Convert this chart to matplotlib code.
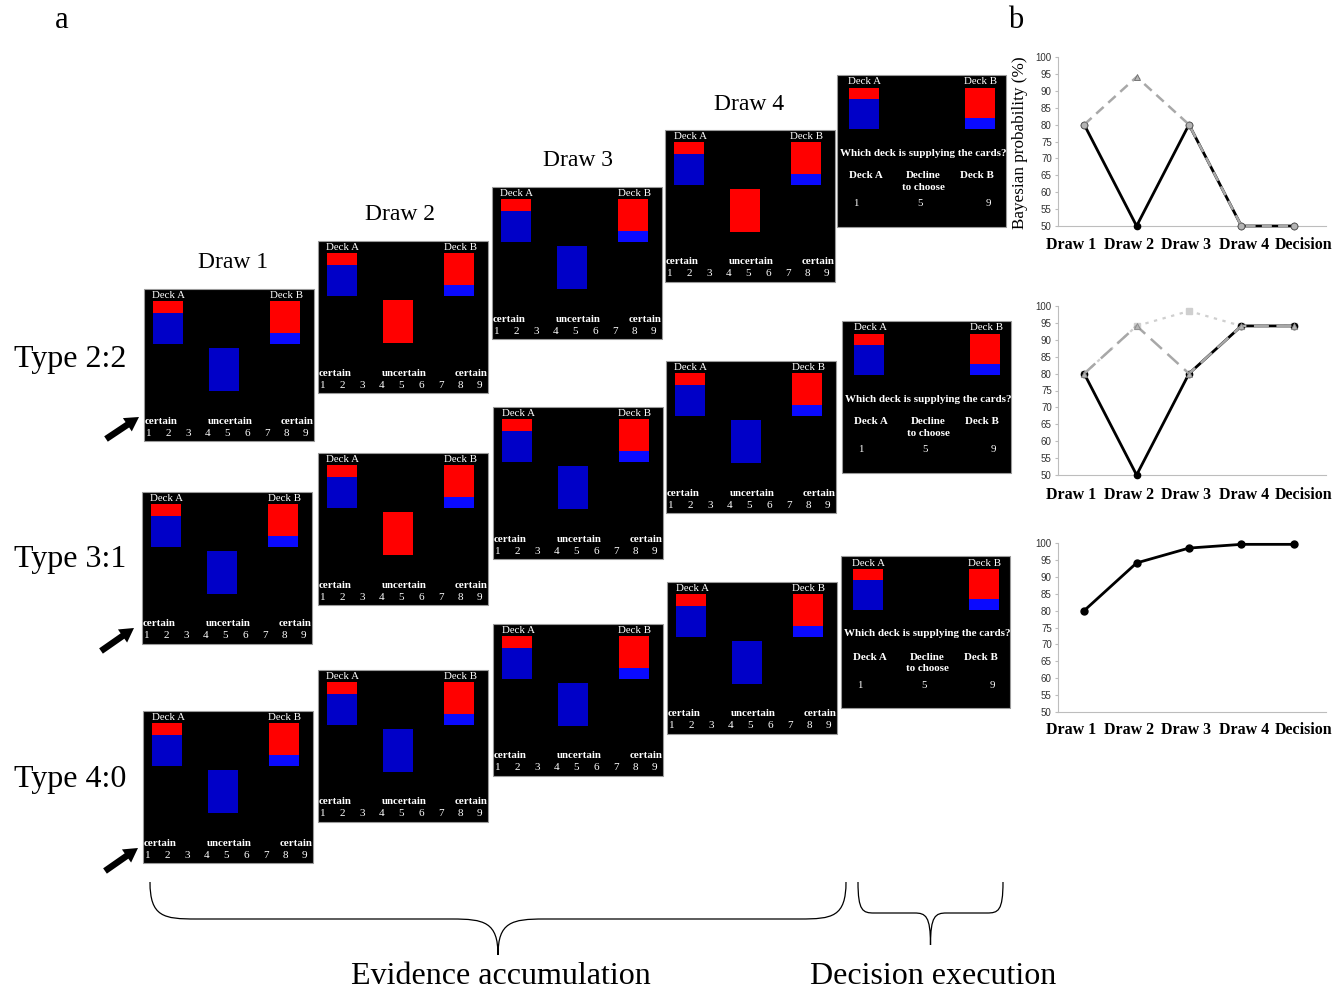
import matplotlib
matplotlib.use("Agg")
import matplotlib.pyplot as plt
from matplotlib.patches import Rectangle, FancyArrow, PathPatch
from matplotlib.path import Path

W, H, DPI = 1344, 991, 100
SERIF = "Liberation Serif"
SANS = "Liberation Sans"

# ---------------- data ----------------
stages = ["Draw 1", "Draw 2", "Draw 3", "Draw 4", "Decision"]
trial_types = ["Type 2:2", "Type 3:1", "Type 4:0"]
cards_type_22 = ["blue", "red", "blue", "red"]
cards_type_31 = ["blue", "red", "blue", "blue"]
cards_type_40 = ["blue", "blue", "blue", "blue"]
deck_a_red_share = 0.28
deck_b_red_share = 0.74
rating_keys = [1, 2, 3, 4, 5, 6, 7, 8, 9]
rating_words = ["certain", "uncertain", "certain"]
question = "Which deck is supplying the cards?"
choice_labels = ["Deck A", "Decline\nto choose", "Deck B"]
choice_keys = [1, 5, 9]

prob_22_seen = [80, 50, 80, 50, 50]
prob_22_alt = [80, 94.1, 80, 50, 50]
prob_31_seen = [80, 50, 80, 94.1, 94.1]
prob_31_alt_a = [80, 94.1, 80, 94.1, 94.1]
prob_31_alt_b = [80, 94.1, 98.5, 94.1, 94.1]
prob_40_seen = [80, 94.1, 98.5, 99.6, 99.6]
y_ticks = [50, 55, 60, 65, 70, 75, 80, 85, 90, 95, 100]

# ---------------- styling ----------------
RED = "#ff0000"
BLUE = "#0000c8"
BLUE_B = "#0a0aff"
CARD = {"blue": BLUE, "red": RED}
SW, SH = 170, 152

fig = plt.figure(figsize=(W / DPI, H / DPI), dpi=DPI)
fig.patch.set_facecolor("white")
ax = fig.add_axes([0, 0, 1, 1])
ax.set_xlim(0, W)
ax.set_ylim(H, 0)
ax.axis("off")


def deck(x, y, h, red_share, lower_blue):
    rh = h * red_share
    ax.add_patch(Rectangle((x, y), 30, rh, facecolor=RED, edgecolor="none"))
    ax.add_patch(Rectangle((x, y + rh), 30, h - rh, facecolor=lower_blue, edgecolor="none"))


def draw_screen(left, top, card):
    ax.add_patch(Rectangle((left, top), SW, SH, facecolor="black",
                           edgecolor="#9a9a9a", lw=0.8))
    deck(left + 9, top + 12, 43, deck_a_red_share, BLUE)
    deck(left + 126, top + 12, 43, deck_b_red_share, BLUE_B)
    ax.text(left + 25, top + 6.5, "Deck A", color="white", fontsize=7.8,
            family=SERIF, ha="center", va="center")
    ax.text(left + 142, top + 6.5, "Deck B", color="white", fontsize=7.8,
            family=SERIF, ha="center", va="center")
    ax.add_patch(Rectangle((left + 65, top + 59), 30, 43,
                           facecolor=CARD[card], edgecolor="none"))
    ax.text(left + 0.5, top + 132, rating_words[0], color="white", fontsize=7.8,
            family=SERIF, weight="bold", ha="left", va="center")
    ax.text(left + 86, top + 132, rating_words[1], color="white", fontsize=7.8,
            family=SERIF, weight="bold", ha="center", va="center")
    ax.text(left + SW - 0.5, top + 132, rating_words[2], color="white", fontsize=7.8,
            family=SERIF, weight="bold", ha="right", va="center")
    for i, k in enumerate(rating_keys):
        ax.text(left + 5 + 19.6 * i, top + 144, str(k), color="white",
                fontsize=8, family=SERIF, ha="center", va="center")


def decision_screen(left, top):
    w = 169
    ax.add_patch(Rectangle((left, top), w, SH, facecolor="black",
                           edgecolor="#9a9a9a", lw=0.8))
    deck(left + 12, top + 13, 41, deck_a_red_share, BLUE)
    deck(left + 128, top + 13, 41, deck_b_red_share, BLUE_B)
    ax.text(left + 28, top + 7, "Deck A", color="white", fontsize=7.8,
            family=SERIF, ha="center", va="center")
    ax.text(left + 144, top + 7, "Deck B", color="white", fontsize=7.8,
            family=SERIF, ha="center", va="center")
    ax.text(left + 86, top + 78, question, color="white", fontsize=7.9,
            family=SERIF, weight="bold", ha="center", va="center")
    for cx, lab in zip([29, 86, 140], choice_labels):
        ax.text(left + cx, top + 96.5, lab, color="white", fontsize=7.9,
                family=SERIF, weight="bold", ha="center", va="top",
                linespacing=1.35)
    for cx, k in zip([19, 83, 151], choice_keys):
        ax.text(left + cx, top + 129, str(k), color="white", fontsize=7.8,
                family=SERIF, ha="center", va="center")


# screen grid: one row per trial type, four draws then the decision
rows = [
    (cards_type_22, [(144, 289), (318, 241), (492, 187), (665, 130)], (837, 75)),
    (cards_type_31, [(142, 492), (318, 453), (493, 407), (666, 361)], (842, 321)),
    (cards_type_40, [(143, 711), (318, 670), (493, 624), (667, 582)], (841, 556)),
]
for cards, draw_pos, dec_pos in rows:
    for card, (l, t) in zip(cards, draw_pos):
        draw_screen(l, t, card)
    decision_screen(*dec_pos)

# column headings above the top row
for lab, (cx, cy) in zip(stages[:4], [(233, 263), (400, 214), (578, 161), (749, 104)]):
    ax.text(cx, cy, lab, fontsize=17, family=SERIF, ha="center", va="center")

# trial type labels and pointing arrows
for lab, cy in zip(trial_types, [360, 560, 780]):
    ax.text(70, cy, lab, fontsize=23, family=SERIF, ha="center", va="center")
for (x0, y0, x1, y1) in [(106, 439, 139, 417), (101, 651, 134, 628), (105, 871, 138, 848)]:
    ax.add_patch(FancyArrow(x0, y0, x1 - x0, y1 - y0, width=6.5, head_width=16,
                            head_length=14, length_includes_head=True,
                            color="black", lw=0))

# panel letters
ax.text(62, 21, "a", fontsize=22, family=SERIF, ha="center", va="center")
ax.text(1016, 21, "b", fontsize=22, family=SERIF, ha="center", va="center")


def brace(x0, x1, ytop, ymid, ytip, r):
    xm = (x0 + x1) / 2
    verts = [
        (x0, ytop), (x0, ymid - 2), (x0 + r * 0.3, ymid), (x0 + r, ymid),
        (xm - r, ymid),
        (xm - r * 0.3, ymid), (xm, ymid + 3), (xm, ytip),
        (xm, ymid + 3), (xm + r * 0.3, ymid), (xm + r, ymid),
        (x1 - r, ymid),
        (x1 - r * 0.3, ymid), (x1, ymid - 2), (x1, ytop),
    ]
    codes = [Path.MOVETO, Path.CURVE4, Path.CURVE4, Path.CURVE4,
             Path.LINETO,
             Path.CURVE4, Path.CURVE4, Path.CURVE4,
             Path.CURVE4, Path.CURVE4, Path.CURVE4,
             Path.LINETO,
             Path.CURVE4, Path.CURVE4, Path.CURVE4]
    ax.add_patch(PathPatch(Path(verts, codes), facecolor="none",
                           edgecolor="black", lw=0.9))


brace(150, 846, 882, 919, 955, 46)
brace(858, 1003, 882, 913, 945, 16)
ax.text(501, 976, "Evidence accumulation", fontsize=23, family=SERIF,
        ha="center", va="center")
ax.text(933, 976, "Decision execution", fontsize=23, family=SERIF,
        ha="center", va="center")


# ---------------- panel b: Bayesian probability curves ----------------
label_pos = [-0.25, 0.86, 1.95, 3.05, 4.18]


def chart(box, label_gap):
    x0, y0, x1, y1 = box
    c = fig.add_axes([x0 / W, 1 - y1 / H, (x1 - x0) / W, (y1 - y0) / H])
    c.set_xlim(-0.5, 4.5)
    c.set_ylim(50, 100)
    for s in ("top", "right"):
        c.spines[s].set_visible(False)
    for s in ("left", "bottom"):
        c.spines[s].set_color("#bdbdbd")
        c.spines[s].set_linewidth(0.8)
    c.spines["bottom"].set_bounds(-0.5, 4.62)
    c.set_yticks(y_ticks)
    c.set_yticklabels([str(v) for v in y_ticks], fontsize=7, family=SANS,
                      color="#333333")
    c.tick_params(axis="y", length=2.5, color="#bdbdbd", pad=2)
    c.set_xticks(label_pos)
    c.set_xticklabels(stages, fontsize=11.5, family=SERIF, weight="bold")
    c.tick_params(axis="x", length=0, pad=label_gap)
    c.patch.set_alpha(0)
    return c


xs = list(range(len(stages)))

c1 = chart((1058, 57, 1320, 226), 8)
c1.plot(xs, prob_22_seen, color="black", lw=2.0, marker="o", ms=4.5,
        zorder=3, clip_on=False)
c1.plot(xs, prob_22_alt, color="#a8a8a8", lw=1.8, dashes=(4, 2.5),
        zorder=4, clip_on=False)
for x, v, m in zip(xs, prob_22_alt, ["o", "^", "o", "o", "o"]):
    c1.plot([x], [v], marker=m, ms=4.8, mfc="#b4b4b4", mec="#6a6a6a",
            mew=0.6, ls="none", zorder=5, clip_on=False)

c2 = chart((1058, 306, 1320, 475), 8.5)
c2.plot(xs, prob_31_seen, color="black", lw=2.0, marker="o", ms=4.5,
        zorder=3, clip_on=False)
c2.plot(xs, prob_31_alt_b, color="#cfcfcf", lw=1.6, dashes=(1.5, 2.5),
        marker="s", ms=4, mfc="#cfcfcf", mec="#cfcfcf", zorder=2, clip_on=False)
c2.plot(xs, prob_31_alt_a, color="#a8a8a8", lw=1.8, dashes=(6, 3),
        marker="^", ms=5, mfc="#b4b4b4", mec="#8a8a8a", mew=0.6,
        zorder=4, clip_on=False)

c3 = chart((1058, 543, 1320, 712), 7)
c3.plot(xs, prob_40_seen, color="black", lw=2.0, marker="o", ms=5,
        zorder=3, clip_on=False)

fig.text(1020 / W, 1 - 143 / H, "Bayesian probability (%)", rotation=90,
         fontsize=12.3, family=SERIF, ha="center", va="center")

fig.savefig("out.png", dpi=DPI, facecolor="white")
